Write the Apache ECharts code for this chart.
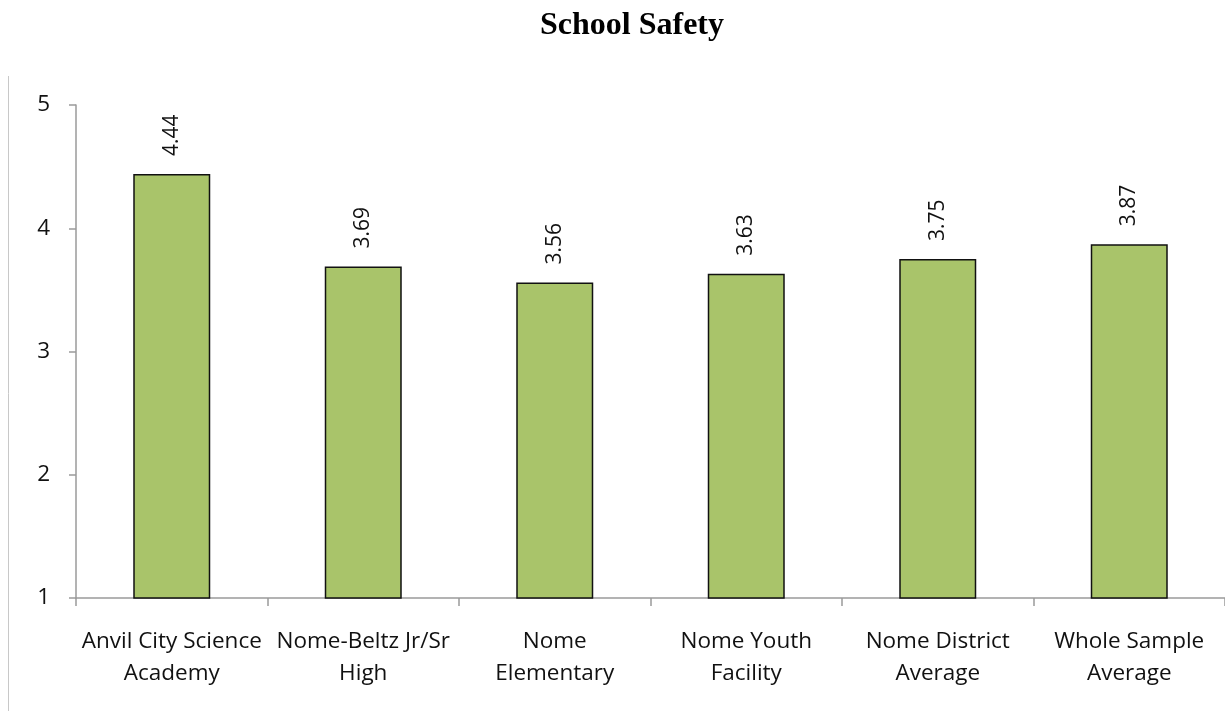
<!DOCTYPE html>
<html>
<head>
<meta charset="utf-8">
<script src="https://cdn.jsdelivr.net/npm/echarts@6/dist/echarts.min.js"></script>
<style>
  html, body { margin: 0; padding: 0; background: #fff; }
  #chart { width: 1225px; height: 711px; }
</style>
</head>
<body>
<div id="chart"></div>
<script>
const categories = [
  'Anvil City Science\nAcademy',
  'Nome-Beltz Jr/Sr\nHigh',
  'Nome\nElementary',
  'Nome Youth\nFacility',
  'Nome District\nAverage',
  'Whole Sample\nAverage'
]
const scores = [4.44, 3.69, 3.56, 3.63, 3.75, 3.87]

const chart = echarts.init(document.getElementById('chart'))

const option = {
  backgroundColor: '#fff',
  animation: false,
  title: {
    text: 'School Safety',
    left: 535,
    top: 5,
    textStyle: {
      fontFamily: 'Liberation Serif',
      fontWeight: 'bold',
      fontSize: 32,
      color: '#000'
    }
  },
  graphic: [
    {
      type: 'line',
      shape: { x1: 8.5, y1: 76, x2: 8.5, y2: 711 },
      style: { stroke: '#c8c8c8', lineWidth: 1 }
    }
  ],
  grid: {
    left: 76,
    right: 0,
    top: 105,
    bottom: 113
  },
  xAxis: {
    type: 'category',
    data: categories,
    axisLine: { lineStyle: { color: '#9a9a9a', width: 1.5 } },
    axisTick: { show: true, length: 8, lineStyle: { color: '#9a9a9a', width: 1.5 } },
    axisLabel: {
      color: '#111',
      fontFamily: 'Open Sans',
      fontSize: 22.5,
      lineHeight: 32,
      margin: 28,
      interval: 0
    }
  },
  yAxis: {
    type: 'value',
    min: 1,
    max: 5,
    interval: 1,
    splitLine: { show: false },
    axisLine: { show: true, lineStyle: { color: '#9a9a9a', width: 1.5 } },
    axisTick: { show: true, length: 7, lineStyle: { color: '#9a9a9a', width: 1.5 } },
    axisLabel: {
      color: '#111',
      fontFamily: 'Open Sans',
      fontSize: 22.5,
      margin: 26
    }
  },
  series: [
    {
      type: 'bar',
      data: scores,
      barWidth: 77,
      itemStyle: {
        color: '#a9c46a',
        borderColor: '#111',
        borderWidth: 1.5
      },
      label: {
        show: true,
        position: 'top',
        rotate: 90,
        align: 'left',
        verticalAlign: 'middle',
        distance: 18,
        color: '#111',
        fontFamily: 'Open Sans',
        fontSize: 21,
        formatter: p => p.value.toFixed(2)
      }
    }
  ]
}

option && chart.setOption(option)
</script>
</body>
</html>
